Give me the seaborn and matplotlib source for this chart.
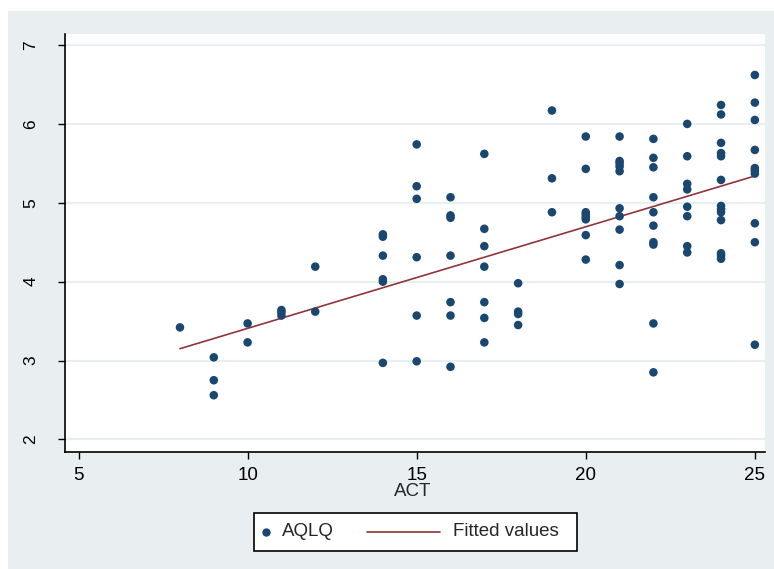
import numpy as np
import pandas as pd
import matplotlib
matplotlib.use("Agg")
import matplotlib.pyplot as plt
from matplotlib.patches import Rectangle
from matplotlib.lines import Line2D
import seaborn as sns

# Values (ACT score vs AQLQ)
act = ([8] + [9] * 3 + [10] * 2 + [11] * 3 + [12] * 2 + [14] * 6 + [15] * 6
       + [16] * 7 + [17] * 7 + [18] * 4 + [19] * 3 + [20] * 8 + [21] * 10
       + [22] * 10 + [23] * 8 + [24] * 13 + [25] * 10)
aqlq = [3.42,
        3.04, 2.75, 2.56,
        3.47, 3.23,
        3.64, 3.61, 3.57,
        4.19, 3.62,
        4.60, 4.57, 4.33, 4.03, 4.00, 2.97,
        5.74, 5.21, 5.05, 4.31, 3.57, 2.99,
        5.07, 4.84, 4.81, 4.33, 3.74, 3.57, 2.92,
        5.62, 4.67, 4.45, 4.19, 3.74, 3.54, 3.23,
        3.98, 3.62, 3.59, 3.45,
        6.17, 5.31, 4.88,
        5.84, 5.43, 4.88, 4.85, 4.82, 4.79, 4.59, 4.28,
        5.84, 5.53, 5.50, 5.46, 5.40, 4.93, 4.83, 4.66, 4.21, 3.97,
        5.81, 5.57, 5.45, 5.07, 4.88, 4.71, 4.50, 4.47, 3.47, 2.85,
        6.00, 5.59, 5.24, 5.17, 4.95, 4.83, 4.45, 4.37,
        6.24, 6.12, 5.76, 5.63, 5.59, 5.29, 4.96, 4.92, 4.88, 4.78, 4.36, 4.33, 4.29,
        6.62, 6.27, 6.05, 5.67, 5.44, 5.41, 5.37, 4.74, 4.50, 3.20]

# fitted line end points
fit_x = [8, 25]
fit_y = [3.15, 5.34]

x_ticks = [5, 10, 15, 20, 25]
y_ticks = [2, 3, 4, 5, 6, 7]

df = pd.DataFrame({"ACT": act, "AQLQ": aqlq})
fit = pd.DataFrame({"ACT": fit_x, "Fitted values": fit_y})

navy = "#1a476f"
maroon = "#90353b"
bg = "#e9eff1"

sns.set_style("ticks")
plt.rcParams["font.family"] = ["Liberation Sans", "DejaVu Sans"]

W, H = 774, 569


def fx(x):
    return x / W


def fy(y):
    return 1 - y / H


fig = plt.figure(figsize=(W / 100, H / 100), dpi=100)
fig.patch.set_facecolor("white")
fig.patches.append(Rectangle((fx(8), 0), 1, fy(11), transform=fig.transFigure,
                             facecolor=bg, edgecolor="none", zorder=-5))

ax = fig.add_axes([fx(65), fy(452), 700 / W, 418 / H])
ax.set_facecolor("white")

sns.scatterplot(data=df, x="ACT", y="AQLQ", ax=ax, color=navy, s=38,
                edgecolor="none", marker="o", zorder=3, legend=False)
sns.lineplot(data=fit, x="ACT", y="Fitted values", ax=ax, color=maroon,
             linewidth=1.2, zorder=2, legend=False)

ax.set_xlim(4.6, 25.3)
ax.set_ylim(1.84, 7.14)
ax.set_xticks(x_ticks)
ax.set_yticks(y_ticks)
ax.yaxis.grid(True, color="#e8eff1", linewidth=1.6)
ax.xaxis.grid(False)
ax.set_axisbelow(True)

for side in ["top", "right"]:
    ax.spines[side].set_visible(False)
for side in ["left", "bottom"]:
    ax.spines[side].set_color("black")
    ax.spines[side].set_linewidth(1.2)

ax.tick_params(axis="both", direction="out", length=5, width=1, colors="black",
               labelsize=13.5)
ax.tick_params(axis="y", pad=14, labelsize=12.5)
ax.tick_params(axis="x", pad=6)
for lbl in ax.get_yticklabels():
    lbl.set_rotation(90)
    lbl.set_va("center")

ax.set_xlabel("")
ax.set_ylabel("")
fig.text(fx(413), fy(492), "ACT", ha="center", va="center", fontsize=13.5)

# legend box drawn by hand to match the Stata key layout
fig.patches.append(Rectangle((fx(254), fy(551)), fx(577) - fx(254), fy(513) - fy(551),
                             transform=fig.transFigure, facecolor="white",
                             edgecolor="black", linewidth=1.2, zorder=5))
fig.lines.append(Line2D([fx(266)], [fy(532)], transform=fig.transFigure, marker="o",
                        markersize=5, color=navy, linestyle="none", zorder=6))
fig.text(fx(282), fy(532), "AQLQ", ha="left", va="center", fontsize=13.5, zorder=6)
fig.lines.append(Line2D([fx(367), fx(440)], [fy(532), fy(532)], transform=fig.transFigure,
                        color=maroon, linewidth=1.2, zorder=6))
fig.text(fx(453), fy(532), "Fitted values", ha="left", va="center", fontsize=13.5, zorder=6)

fig.savefig("out.png", dpi=100)
